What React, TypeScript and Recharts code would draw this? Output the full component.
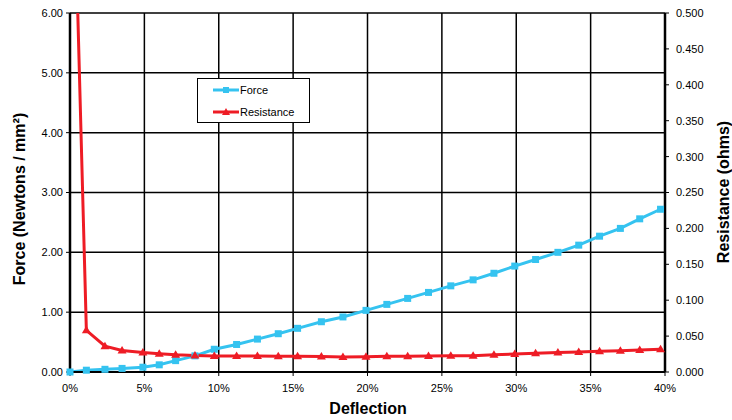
import { CartesianGrid, Label, Legend, Line, LineChart, XAxis, YAxis } from "recharts";

// deflection in percent, shared by both series
const deflection = [
  0, 1.1, 2.35, 3.5, 4.9, 6.0, 7.1, 8.4, 9.7, 11.2, 12.6, 14.0, 15.3, 16.9, 18.35,
  19.9, 21.3, 22.7, 24.1, 25.6, 27.1, 28.5, 29.9, 31.3, 32.8, 34.2, 35.6, 37.0, 38.3, 39.7,
];
const force = [
  0, 0.03, 0.045, 0.06, 0.08, 0.12, 0.19, 0.27, 0.38, 0.46, 0.55, 0.64, 0.73, 0.84, 0.92,
  1.03, 1.13, 1.23, 1.33, 1.44, 1.54, 1.65, 1.77, 1.88, 2.0, 2.12, 2.27, 2.4, 2.56, 2.72,
];
const resistance = [
  0.9, 0.058, 0.036, 0.03, 0.027, 0.0255, 0.024, 0.023, 0.0223, 0.0223, 0.0222, 0.022,
  0.0218, 0.0216, 0.021, 0.0214, 0.022, 0.022, 0.0223, 0.0225, 0.0227, 0.024, 0.025,
  0.026, 0.027, 0.028, 0.0288, 0.0297, 0.0306, 0.0316,
];
const xTicks = [0, 5, 10, 15, 20, 25, 30, 35, 40];
const forceTicks = [0, 1, 2, 3, 4, 5, 6];
const ohmTicks = [0, 0.05, 0.1, 0.15, 0.2, 0.25, 0.3, 0.35, 0.4, 0.45, 0.5];

const data = deflection.map((d, i) => ({
  deflection: d,
  force: force[i],
  resistance: resistance[i],
}));

const FONT = '"Liberation Sans", Arial, sans-serif';
const BLUE = "#35c3f0";
const RED = "#ee1c25";
const tick = { fill: "#000", fontSize: 11, fontFamily: FONT };

function SquareDot(props: any) {
  const { cx, cy } = props;
  if (cx == null || cy == null) return <g />;
  return <rect x={cx - 3.5} y={cy - 3.5} width={7} height={7} fill={BLUE} />;
}

function TriangleDot(props: any) {
  const { cx, cy } = props;
  if (cx == null || cy == null) return <g />;
  return <path d={`M${cx},${cy - 4.5}L${cx + 4.5},${cy + 3}L${cx - 4.5},${cy + 3}Z`} fill={RED} />;
}

function ChartLegend() {
  const rows = [
    { name: "Force", color: BLUE, marker: "square" },
    { name: "Resistance", color: RED, marker: "triangle" },
  ];
  return (
    <div
      style={{
        width: 113,
        height: 45,
        boxSizing: "border-box",
        border: "1px solid #000",
        background: "#fff",
        fontFamily: FONT,
        fontSize: 11,
      }}
    >
      {rows.map((r) => (
        <div key={r.name} style={{ display: "flex", alignItems: "center", height: 22, paddingLeft: 15 }}>
          <svg width={26} height={10} style={{ marginRight: 1 }}>
            <line x1={0} y1={5} x2={26} y2={5} stroke={r.color} strokeWidth={3} />
            {r.marker === "square" ? (
              <rect x={10} y={2} width={6} height={6} fill={r.color} />
            ) : (
              <path d="M13,1L17,8L9,8Z" fill={r.color} />
            )}
          </svg>
          <span>{r.name}</span>
        </div>
      ))}
    </div>
  );
}

export default function App() {
  return (
    <div style={{ position: "absolute", left: 0, top: 0, width: 732, height: 420, background: "#fff" }}>
      <LineChart width={732} height={420} data={data} margin={{ top: 13, right: 0, bottom: 0, left: 0 }}>
        <CartesianGrid yAxisId="left" stroke="#000" strokeWidth={1.5} ticks={forceTicks} />
        <XAxis
          type="number"
          dataKey="deflection"
          domain={[0, 40]}
          ticks={xTicks}
          tickFormatter={(v) => `${v}%`}
          height={48}
          tick={tick}
          tickSize={4}
          tickMargin={8}
          axisLine={{ stroke: "#000", strokeWidth: 2 }}
          tickLine={{ stroke: "#000" }}
        >
          <Label
            content={() => (
              <text x={368} y={414} textAnchor="middle" fontFamily={FONT} fontSize={16} fontWeight="bold" fill="#000">
                Deflection
              </text>
            )}
          />
        </XAxis>
        <YAxis
          yAxisId="left"
          domain={[0, 6]}
          ticks={forceTicks}
          tickFormatter={(v) => v.toFixed(2)}
          width={70}
          tick={tick}
          tickSize={4}
          tickMargin={3}
          axisLine={{ stroke: "#000", strokeWidth: 2.5 }}
          tickLine={{ stroke: "#000" }}
        >
          <Label
            content={() => (
              <text
                x={25}
                y={199}
                transform="rotate(-90 25 199)"
                textAnchor="middle"
                fontFamily={FONT}
                fontSize={16}
                fontWeight="bold"
                fill="#000"
              >
                Force (Newtons / mm²)
              </text>
            )}
          />
        </YAxis>
        <YAxis
          yAxisId="right"
          orientation="right"
          domain={[0, 0.5]}
          allowDataOverflow
          ticks={ohmTicks}
          tickFormatter={(v) => v.toFixed(3)}
          width={67}
          tick={tick}
          tickSize={4}
          tickMargin={7}
          axisLine={{ stroke: "#000", strokeWidth: 2.5 }}
          tickLine={{ stroke: "#000" }}
        >
          <Label
            content={() => (
              <text
                x={729}
                y={192}
                transform="rotate(-90 729 192)"
                textAnchor="middle"
                fontFamily={FONT}
                fontSize={16}
                fontWeight="bold"
                fill="#000"
              >
                Resistance (ohms)
              </text>
            )}
          />
        </YAxis>
        <Legend
          layout="vertical"
          align="center"
          verticalAlign="middle"
          content={() => <ChartLegend />}
          wrapperStyle={{ left: 197, top: 78, width: 113, height: 45 }}
        />
        <Line
          yAxisId="left"
          dataKey="force"
          name="Force"
          type="linear"
          stroke={BLUE}
          strokeWidth={3}
          dot={<SquareDot />}
          activeDot={false}
          isAnimationActive={false}
        />
        <Line
          yAxisId="right"
          dataKey="resistance"
          name="Resistance"
          type="linear"
          stroke={RED}
          strokeWidth={3}
          dot={<TriangleDot />}
          activeDot={false}
          isAnimationActive={false}
        />
      </LineChart>
    </div>
  );
}
